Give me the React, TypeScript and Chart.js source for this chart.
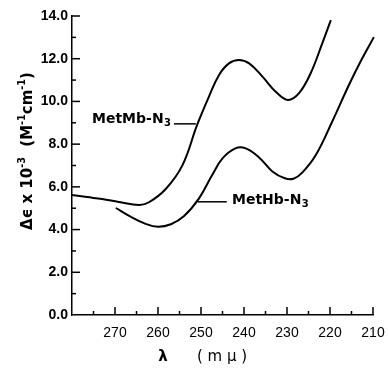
import React, { useEffect, useRef } from "react";
import { Chart, registerables } from "chart.js";

Chart.register(...registerables);

// wavelength (mμ) and Δε x 10^-3 values
const metMbLambda = [280, 276.5, 273.0, 269.1, 264.4, 262.1, 258.2, 254.3, 250.9, 248.1, 245.8, 243.5, 241.2, 238.8, 235.7, 232.6, 229.8, 227.2, 224.5, 221.8, 219.8];
const metMbValues = [5.62, 5.52, 5.43, 5.29, 5.15, 5.28, 5.9, 7.02, 8.9, 10.25, 11.24, 11.78, 11.94, 11.78, 11.16, 10.45, 10.07, 10.39, 11.32, 12.72, 13.81];

const metHbLambda = [269.8, 266.5, 263.0, 260.0, 257.0, 254.0, 250.5, 247.4, 245.0, 242.0, 239.6, 236.5, 233.4, 230.5, 228.5, 226.4, 223.3, 219.5, 215.6, 212.5, 209.8];
const metHbValues = [5.01, 4.62, 4.28, 4.13, 4.25, 4.62, 5.45, 6.55, 7.33, 7.8, 7.8, 7.38, 6.72, 6.4, 6.38, 6.68, 7.49, 9.05, 10.77, 12.02, 13.01];

const xTickValues = [270, 260, 250, 240, 230, 220, 210];
const yTickValues = [0, 2, 4, 6, 8, 10, 12, 14];

const seriesLabels = [
  { text: "MetMb-N", sub: "3", lam: 275.35, val: 8.99, lineFrom: 256.3, lineTo: 251.2, lineVal: 8.95 },
  { text: "MetHb-N", sub: "3", lam: 242.8, val: 5.22, lineFrom: 250.8, lineTo: 244.0, lineVal: 5.3 },
];

const FONT = "'Liberation Sans', Arial, sans-serif";
const LABEL_FONT = "'DejaVu Sans', sans-serif";

const decorPlugin = {
  id: "decor",
  afterDraw(chart: any) {
    const ctx = chart.ctx as CanvasRenderingContext2D;
    const xs = chart.scales.x;
    const ys = chart.scales.y;
    const area = chart.chartArea;
    ctx.save();
    ctx.strokeStyle = "#000";
    ctx.fillStyle = "#000";
    ctx.lineWidth = 1.5;
    // inward tick marks
    for (let v = 1; v <= 14; v++) {
      const py = ys.getPixelForValue(v);
      const len = v % 2 === 0 ? 8 : 4;
      ctx.beginPath();
      ctx.moveTo(area.left, py);
      ctx.lineTo(area.left + len, py);
      ctx.stroke();
    }
    for (let v = 210; v <= 275; v += 5) {
      const px = xs.getPixelForValue(v);
      const len = v % 10 === 0 ? 8 : 4;
      ctx.beginPath();
      ctx.moveTo(px, area.bottom);
      ctx.lineTo(px, area.bottom - len);
      ctx.stroke();
    }
    // series labels
    for (const l of seriesLabels) {
      const px = xs.getPixelForValue(l.lam);
      const py = ys.getPixelForValue(l.val);
      ctx.font = `bold 14px ${LABEL_FONT}`;
      ctx.textAlign = "left";
      ctx.textBaseline = "alphabetic";
      ctx.fillText(l.text, px, py);
      const w = ctx.measureText(l.text).width;
      ctx.font = `bold 10px ${LABEL_FONT}`;
      ctx.fillText(l.sub, px + w + 0.5, py + 3);
      ctx.lineWidth = 1.5;
      ctx.beginPath();
      ctx.moveTo(xs.getPixelForValue(l.lineFrom), ys.getPixelForValue(l.lineVal));
      ctx.lineTo(xs.getPixelForValue(l.lineTo), ys.getPixelForValue(l.lineVal));
      ctx.stroke();
    }
    // y axis title
    const segs: [string, boolean][] = [
      ["Δϵ x 10", false],
      ["-3", true],
      ["  (M", false],
      ["-1", true],
      ["cm", false],
      ["-1", true],
      [")", false],
    ];
    const measure = (size: number) => {
      let t = 0;
      for (const [s, sup] of segs) {
        ctx.font = `bold ${sup ? size * 0.65 : size}px ${LABEL_FONT}`;
        t += ctx.measureText(s).width;
      }
      return t;
    };
    const size = 15 * 158 / measure(15);
    const total = measure(size);
    ctx.translate(28, 151);
    ctx.rotate(-Math.PI / 2);
    let cx = -total / 2;
    ctx.textBaseline = "middle";
    ctx.textAlign = "left";
    for (const [s, sup] of segs) {
      ctx.font = `bold ${sup ? size * 0.65 : size}px ${LABEL_FONT}`;
      ctx.fillText(s, cx, sup ? -size * 0.4 : 0);
      cx += ctx.measureText(s).width;
    }
    ctx.setTransform(1, 0, 0, 1, 0, 0);
    // x axis title
    ctx.font = `bold 15px ${LABEL_FONT}`;
    ctx.textAlign = "center";
    ctx.textBaseline = "middle";
    ctx.fillText("λ", 163, 357);
    ctx.font = `15px ${LABEL_FONT}`;
    ctx.fillText("( m μ )", 222, 357);
    ctx.restore();
  },
};

export default function App() {
  const ref = useRef<HTMLCanvasElement>(null);
  useEffect(() => {
    if (!ref.current) return;
    const chart = new Chart(ref.current, {
      type: "line",
      data: {
        datasets: [
          {
            label: "MetMb-N3",
            data: metMbLambda.map((x, i) => ({ x, y: metMbValues[i] })),
            borderColor: "#000",
            borderWidth: 2,
            pointRadius: 0,
            tension: 0.4,
            clip: false as any,
          },
          {
            label: "MetHb-N3",
            data: metHbLambda.map((x, i) => ({ x, y: metHbValues[i] })),
            borderColor: "#000",
            borderWidth: 2,
            pointRadius: 0,
            tension: 0.4,
            clip: false as any,
          },
        ],
      },
      options: {
        animation: false,
        responsive: false,
        layout: { padding: { top: 16, right: 16, left: 0, bottom: 0 } },
        plugins: { legend: { display: false }, tooltip: { enabled: false } },
        scales: {
          x: {
            type: "linear",
            reverse: true,
            min: 210,
            max: 280,
            afterBuildTicks: (s: any) => {
              s.ticks = xTickValues.map((v) => ({ value: v }));
            },
            afterFit: (s: any) => {
              s.height = 53;
              s.paddingLeft = 0;
              s.paddingRight = 0;
            },
            grid: { display: false, drawTicks: false },
            border: { display: true, color: "#000", width: 1.5 },
            ticks: {
              color: "#000",
              padding: 10,
              maxRotation: 0,
              font: { family: FONT, size: 14 },
              callback: (v: any) => String(v),
            },
          },
          y: {
            type: "linear",
            min: 0,
            max: 14,
            afterBuildTicks: (s: any) => {
              s.ticks = yTickValues.map((v) => ({ value: v }));
            },
            afterFit: (s: any) => {
              s.width = 72;
              s.paddingTop = 0;
              s.paddingBottom = 0;
            },
            grid: { display: false, drawTicks: false },
            border: { display: true, color: "#000", width: 1.5 },
            ticks: {
              color: "#000",
              padding: 4,
              font: { family: FONT, size: 14, weight: "bold" },
              callback: (v: any) => Number(v).toFixed(1),
            },
          },
        },
      },
      plugins: [decorPlugin],
    });
    return () => chart.destroy();
  }, []);
  return (
    <div style={{ position: "fixed", left: 0, top: 0, width: 389, height: 368, background: "#fff" }}>
      <canvas ref={ref} width={389} height={368} />
    </div>
  );
}
